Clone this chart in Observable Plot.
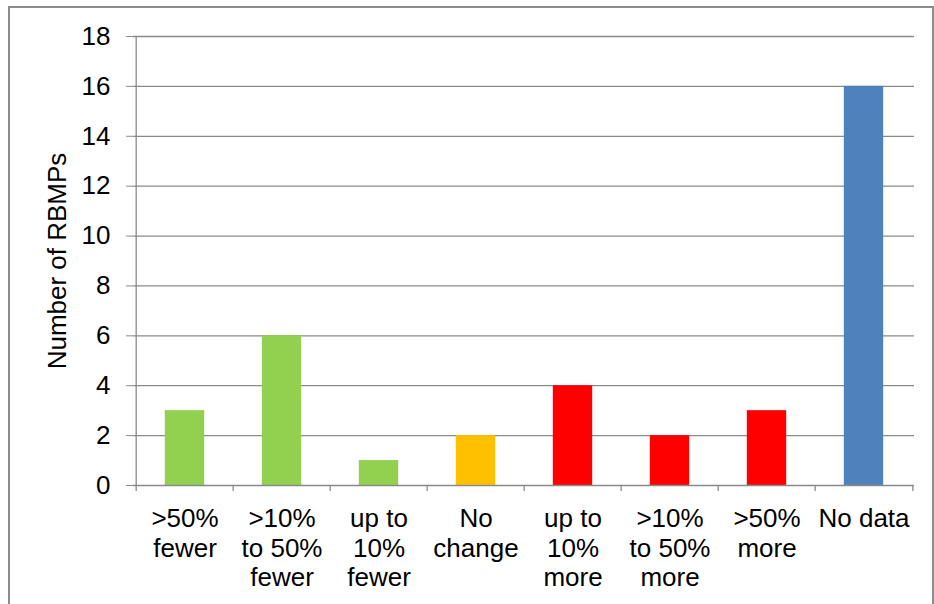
<!DOCTYPE html>
<html><head><meta charset="utf-8">
<script src="https://cdn.jsdelivr.net/npm/d3@7"></script>
<script src="https://cdn.jsdelivr.net/npm/@observablehq/plot@0.6"></script>
<style>
html,body{margin:0;padding:0;background:#fff;}
#wrap{position:relative;width:934px;height:604px;overflow:hidden;}
#border{position:absolute;left:8px;top:6px;width:926px;height:640px;border:2px solid #8c8c8c;box-sizing:border-box;}
#chart{position:absolute;left:0;top:0;}
</style></head><body>
<div id="wrap"><div id="border"></div><div id="chart"></div></div>
<script>
const categories = [">50%\nfewer", ">10%\nto 50%\nfewer", "up to\n10%\nfewer", "No\nchange", "up to\n10%\nmore", ">10%\nto 50%\nmore", ">50%\nmore", "No data"];
const counts = [3, 6, 1, 2, 4, 2, 3, 16];
const groups = ["fewer", "fewer", "fewer", "none", "more", "more", "more", "nodata"];
const groupNames = ["fewer", "none", "more", "nodata"];
const groupColors = ["#92D050", "#FFC000", "#FF0000", "#4F81BD"];
const yTicks = [0, 2, 4, 6, 8, 10, 12, 14, 16, 18];
const yTitle = "Number of RBMPs";

const data = categories.map((c, i) => ({category: c, count: counts[i], group: groups[i]}));

const width = 934, height = 604;
const mL = 133, mR = 20, mT = 36, mB = 119;
const step = (width - mL - mR) / categories.length;
const barW = 40;
const grid = "#8a8a8a";
const font = "'Liberation Sans', Arial, sans-serif";

const chart = Plot.plot({
  width, height,
  marginLeft: mL, marginRight: mR, marginTop: mT, marginBottom: mB,
  style: {fontFamily: font, fontSize: "26px", color: "#000", background: "transparent", overflow: "visible"},
  x: {domain: categories, padding: 0, label: null},
  y: {domain: [0, 18], label: null},
  color: {domain: groupNames, range: groupColors},
  marks: [
    Plot.ruleY(yTicks.filter(d => d > 0), {stroke: grid, strokeWidth: 1.3}),
    Plot.barY(data, {x: "category", y: "count", fill: "group", insetLeft: (step - barW) / 2, insetRight: (step - barW) / 2}),
    Plot.ruleY([0], {stroke: grid, strokeWidth: 1.3}),
    Plot.ruleX([categories[0]], {dx: -step / 2, y1: 0, y2: 18, stroke: grid, strokeWidth: 1.3}),
    Plot.ruleX(categories, {dx: -step / 2, y1: 0, y2: 0, insetBottom: -6, stroke: grid, strokeWidth: 1.3}),
    Plot.ruleX([categories[categories.length - 1]], {dx: step / 2, y1: 0, y2: 0, insetBottom: -6, stroke: grid, strokeWidth: 1.3}),
    Plot.axisY({ticks: yTicks, tickSize: 7, tickPadding: 16, stroke: grid, fill: "#000", fontSize: 26,
      label: yTitle, labelAnchor: "center", labelOffset: 86, labelArrow: "none"}),
    Plot.axisX({tickSize: 0, tickPadding: 21, fill: "#000", fontSize: 26, lineHeight: 1.13, label: null})
  ]
});
document.getElementById("chart").appendChild(chart);
</script>
</body></html>
